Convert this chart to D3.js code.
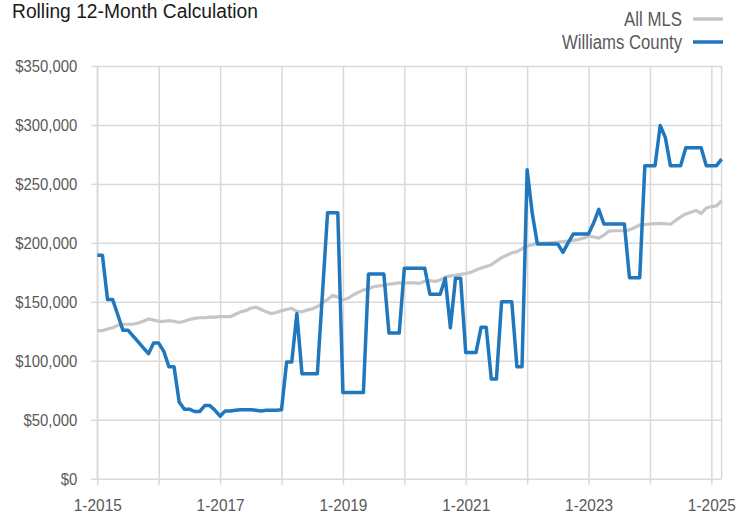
<!DOCTYPE html>
<html>
<head>
<meta charset="utf-8">
<script src="https://cdn.jsdelivr.net/npm/d3@7"></script>
<style>
  html, body { margin: 0; padding: 0; background: #ffffff; }
  svg { display: block; }
  text { font-family: "Liberation Sans", Arial, Helvetica, sans-serif; }
</style>
</head>
<body>
<svg id="chart" width="748" height="514"></svg>
<script>
// ---- Data (monthly, 1-2015 .. 3-2025) ----
const title = "Rolling 12-Month Calculation";
const seriesNames = ["All MLS", "Williams County"];
const tickLabels = ["1-2015", "1-2017", "1-2019", "1-2021", "1-2023", "1-2025"];
const yTickValues = [0, 50000, 100000, 150000, 200000, 250000, 300000, 350000];

// All MLS (thousands of $)
const allMLS = [
  125.5, 125.5, 127, 128, 130, 131, 131, 131, 132, 133.5, 135.5, 134.5,
  133.5, 133.5, 134, 133.5, 132.5, 133.5, 135, 136, 136.5, 136.5, 137, 137,
  137.4, 137.4, 137.4, 139.5, 141.5, 142.5, 144.5, 145.5, 143.5, 141.5, 140, 141,
  142.5, 143.5, 144.5, 142, 141.5, 143, 144, 146, 149, 152, 155.5, 154,
  151.5, 153, 155.8, 158, 160, 161, 162.8, 163.5, 164, 165, 165.5, 166,
  166.2, 166, 166, 165.7, 167.5, 168, 167.2, 168.5, 171, 172, 172.5, 173.3,
  174, 175, 177, 178.6, 180, 181.5, 184.5, 187.5, 189.5, 191.5, 192.5, 195,
  197.3, 198.5, 199.6, 199.8, 200, 200.3, 200.6, 201, 201.5, 202, 202.8, 204,
  205.6, 205, 204, 206.5, 210, 210.3, 210.3, 210.3, 211, 213, 215.2, 215.6,
  216, 216.3, 216.6, 216.2, 215.8, 219, 222, 224.5, 226, 227.5, 225, 229.5,
  230.8, 231.3, 235.8
];

// Williams County (thousands of $)
const williams = [
  189.5, 189.5, 152, 152, 139, 126, 126, 121, 116, 111, 106, 115,
  115, 108, 95, 95, 65, 59, 59, 57, 57, 62, 62, 58,
  53, 57.5, 57.5, 58, 58.5, 58.5, 58.5, 58, 57.5, 58, 58, 58,
  58.5, 99, 99, 140, 89, 89, 89, 89, 157, 225.6, 225.6, 225.6,
  73, 73, 73, 73, 73, 173.5, 173.5, 173.5, 173.5, 123.5, 123.5, 123.5,
  178.4, 178.4, 178.4, 178.4, 178.4, 156.5, 156.5, 156.5, 170, 128, 170, 170,
  107, 107, 107, 128.4, 128.4, 84.5, 84.5, 150, 150, 150, 95, 95,
  262, 225, 199, 199, 199, 199, 199, 192, 200, 207.5, 207.5, 207.5,
  207.5, 217, 228.5, 216, 216, 216, 216, 216, 170.5, 170.5, 170.5, 265.5,
  265.5, 265.5, 299.5, 289.5, 265.5, 265.5, 265.5, 280.7, 280.7, 280.7, 280.7, 265.5,
  265.5, 265.5, 271
];

(function draw() {
  const svg = d3.select("#chart");
  const pLeft = 97.3, pRight = 721.6, pTop = 66, pBottom = 478.7;
  const n = williams.length;

  const x = d3.scaleLinear().domain([0, n - 1]).range([pLeft, pRight]);
  const y = d3.scaleLinear().domain([0, 350000]).range([pBottom, pTop]);

  const gridColor = "#d9d9d9";
  const textColor = "#595959";

  // Vertical grid (every year)
  const yearIdx = d3.range(0, n, 12);
  const gx = svg.append("g").attr("transform", `translate(0,${pBottom})`)
    .call(d3.axisBottom(x).tickValues(yearIdx).tickSize(-(pBottom - pTop)).tickFormat(""));
  gx.select(".domain").remove();
  gx.selectAll("line").attr("stroke", gridColor).attr("stroke-width", 1.5);

  // x tick marks below axis
  const gxt = svg.append("g").attr("transform", `translate(0,${pBottom})`)
    .call(d3.axisBottom(x).tickValues(yearIdx).tickSize(6).tickFormat(""));
  gxt.select(".domain").remove();
  gxt.selectAll("line").attr("stroke", gridColor).attr("stroke-width", 1.5);

  // x labels every 2 years
  const labelIdx = tickLabels.map((d, i) => i * 24);
  const gxl = svg.append("g").attr("transform", `translate(0,${pBottom})`)
    .call(d3.axisBottom(x).tickValues(labelIdx).tickSize(0).tickFormat((d, i) => tickLabels[i]));
  gxl.select(".domain").remove();
  gxl.selectAll("text").attr("y", 32).attr("dy", 0)
    .attr("fill", textColor).style("font-size", "17px");

  // Horizontal grid
  const gy = svg.append("g").attr("transform", `translate(${pLeft},0)`)
    .call(d3.axisLeft(y).tickValues(yTickValues).tickSize(-(pRight - pLeft)).tickFormat(""));
  gy.select(".domain").remove();
  gy.selectAll("line").attr("stroke", gridColor).attr("stroke-width", 1.5);

  // y tick marks + labels
  const fmt = d => "$" + d3.format(",")(d);
  const gya = svg.append("g").attr("transform", `translate(${pLeft},0)`)
    .call(d3.axisLeft(y).tickValues(yTickValues).tickSize(6).tickPadding(14).tickFormat(fmt));
  gya.select(".domain").remove();
  gya.selectAll("line").attr("stroke", gridColor).attr("stroke-width", 1.5);
  gya.selectAll("text").attr("fill", textColor).style("font-size", "16px").attr("dy", "0.36em");

  // Left and right frame lines
  svg.append("line").attr("x1", pLeft).attr("x2", pLeft).attr("y1", pTop).attr("y2", pBottom)
    .attr("stroke", gridColor).attr("stroke-width", 1.5);
  svg.append("line").attr("x1", pRight).attr("x2", pRight).attr("y1", pTop).attr("y2", pBottom)
    .attr("stroke", gridColor).attr("stroke-width", 1.5);

  function stretch(sel, factor) {
    sel.each(function() {
      const L = this.getComputedTextLength();
      d3.select(this).attr("textLength", L * factor).attr("lengthAdjust", "spacingAndGlyphs");
    });
  }
  function fitTo(sel, target) {
    sel.attr("textLength", target).attr("lengthAdjust", "spacingAndGlyphs");
  }
  const t1 = gya.selectAll("text").filter(d => d === 300000).node();
  stretch(gya.selectAll("text"), 62 / t1.getComputedTextLength());
  const t2 = gxl.selectAll("text").filter(d => d === 0).node();
  stretch(gxl.selectAll("text"), 48 / t2.getComputedTextLength());

  // Lines
  const line = d3.line().x((d, i) => x(i)).y(d => y(d * 1000)).curve(d3.curveLinear);
  svg.append("path").datum(allMLS).attr("d", line)
    .attr("fill", "none").attr("stroke", "#c6c6c6").attr("stroke-width", 3.2)
    .attr("stroke-linejoin", "round");
  svg.append("path").datum(williams).attr("d", line)
    .attr("fill", "none").attr("stroke", "#1f77be").attr("stroke-width", 3.5)
    .attr("stroke-linejoin", "round");

  // Title
  const tt = svg.append("text").attr("x", 12).attr("y", 17.5)
    .attr("fill", "#1a1a1a").style("font-size", "19.5px").text(title);
  fitTo(tt, 246);

  // Legend
  const legend = [
    { name: seriesNames[0], color: "#c6c6c6", ty: 25.5, ly: 19, w: 58 },
    { name: seriesNames[1], color: "#1f77be", ty: 49, ly: 42, w: 120 }
  ];
  legend.forEach(l => {
    const t = svg.append("text").attr("x", 682).attr("y", l.ty).attr("text-anchor", "end")
      .attr("fill", textColor).style("font-size", "20px").text(l.name);
    fitTo(t, l.w);
    svg.append("line").attr("x1", 693).attr("x2", 723).attr("y1", l.ly).attr("y2", l.ly)
      .attr("stroke", l.color).attr("stroke-width", 3.5);
  });
})();
</script>
</body>
</html>
